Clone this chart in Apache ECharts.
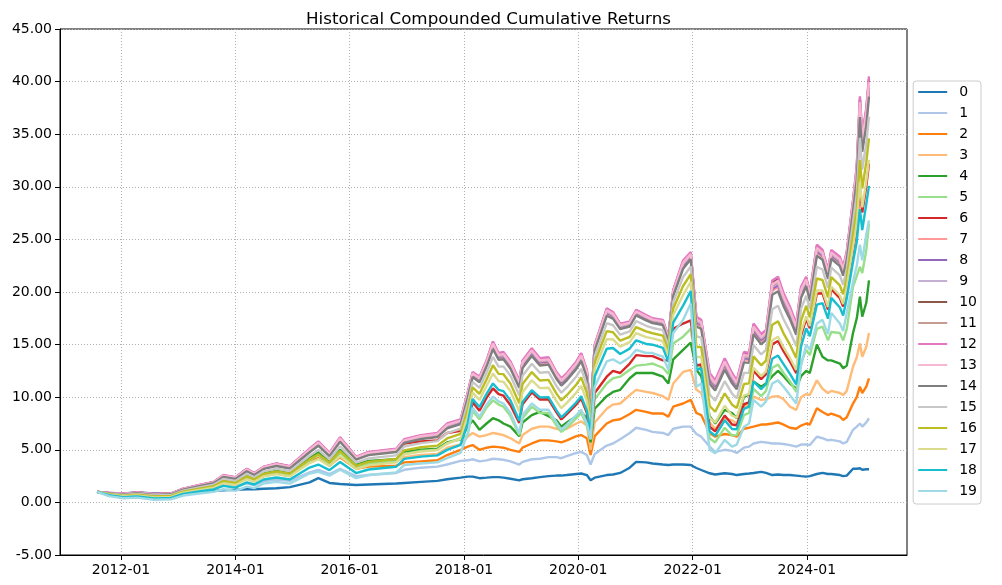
<!DOCTYPE html>
<html><head><meta charset="utf-8">
<script src="https://cdn.jsdelivr.net/npm/echarts/dist/echarts.min.js"></script>
<style>html,body{margin:0;padding:0;background:#fff}#c{width:1002px;height:585px}</style>
</head><body><div id="c"></div>
<script>
const dates = ['2011-08-01','2011-10-15','2012-01-15','2012-04-15','2012-08-01','2012-11-15','2013-02-01','2013-05-15','2013-08-15','2013-10-15',
'2014-01-01','2014-03-15','2014-05-01','2014-07-01','2014-09-20','2014-12-15','2015-04-20','2015-06-15','2015-08-25','2015-11-01',
'2016-02-11','2016-05-01','2016-10-25','2016-12-15','2017-04-01','2017-07-15','2017-09-15','2017-12-10','2018-01-25','2018-02-25',
'2018-04-10','2018-05-25','2018-07-05','2018-08-10','2018-09-10','2018-10-25','2018-12-20','2019-01-10','2019-03-10','2019-05-01',
'2019-06-25','2019-08-15','2019-09-15','2019-10-20','2019-12-20','2020-01-20','2020-02-25','2020-03-20','2020-04-15','2020-07-01',
'2020-08-10','2020-09-25','2020-11-25','2021-01-05','2021-03-10','2021-04-20','2021-06-25','2021-07-30','2021-08-30','2021-11-01',
'2021-12-20','2022-01-25','2022-02-25','2022-04-20','2022-05-25','2022-07-25','2022-09-10','2022-10-10','2022-11-25','2022-12-28',
'2023-01-25','2023-03-15','2023-04-15','2023-05-25','2023-07-01','2023-08-05','2023-09-15','2023-10-25','2023-11-25','2023-12-28',
'2024-01-20','2024-03-05','2024-04-10','2024-05-15','2024-06-05','2024-07-30','2024-08-20','2024-09-12','2024-10-22','2024-11-15',
'2024-12-05','2024-12-20','2025-01-15','2025-02-01'];

const s0 = [1.00,0.90,0.85,0.95,0.85,0.88,0.95,1.05,1.10,1.15, 1.20,1.25,1.25,1.30,1.35,1.45,1.90,2.30,1.85,1.75, 1.65,1.70,1.80,1.85,1.95,2.05,2.20,2.35,2.45,2.45, 2.30,2.35,2.40,2.40,2.35,2.25,2.10,2.20,2.30,2.40, 2.50,2.55,2.55,2.60,2.70,2.75,2.60,2.10,2.35,2.60, 2.65,2.80,3.30,3.85,3.80,3.70,3.60,3.55,3.60,3.60, 3.55,3.27,3.08,2.77,2.65,2.77,2.70,2.60,2.70,2.75, 2.80,2.90,2.80,2.60,2.65,2.60,2.60,2.55,2.50,2.45, 2.50,2.70,2.80,2.70,2.70,2.60,2.50,2.55,3.20,3.20, 3.25,3.10,3.15,3.15];
const s1 = [1.00,0.85,0.75,0.90,0.70,0.75,1.05,1.20,1.35,1.60, 1.50,1.80,1.65,2.00,2.15,2.05,2.85,3.10,2.70,3.20, 2.50,2.60,2.80,3.10,3.30,3.40,3.60,3.95,4.00,4.10, 3.90,4.00,4.15,4.10,4.05,3.90,3.60,3.85,4.10,4.15, 4.30,4.30,4.20,4.40,4.70,4.80,4.50,3.60,4.60,5.40, 5.60,6.00,6.60,7.10,6.90,6.70,6.60,6.40,7.00,7.20, 7.20,6.50,6.25,5.30,4.80,5.00,4.90,4.70,5.20,5.30, 5.60,5.75,5.70,5.60,5.60,5.55,5.45,5.30,5.50,5.50, 5.45,6.25,6.10,5.90,5.95,5.80,5.60,5.75,6.90,7.20, 7.50,7.20,7.60,8.00];
const s2 = [1.00,0.80,0.65,0.80,0.60,0.65,1.00,1.25,1.45,1.90, 1.75,2.30,2.05,2.50,2.75,2.50,4.00,4.20,3.50,4.30, 3.20,3.40,3.50,3.80,3.90,4.00,4.50,5.00,5.30,5.45, 5.00,5.20,5.30,5.25,5.20,5.00,4.80,5.20,5.60,5.90, 5.90,5.80,5.70,5.90,6.30,6.40,6.10,4.50,6.30,7.50, 7.80,7.90,8.40,8.80,8.60,8.45,8.45,8.15,9.10,9.40, 9.75,8.50,8.30,6.60,6.25,6.50,6.40,6.25,7.00,7.10, 7.20,7.40,7.40,7.50,7.60,7.40,7.10,7.00,7.30,7.50, 7.40,8.95,8.60,8.30,8.45,8.15,7.83,8.10,9.40,10.00, 11.00,10.40,11.00,11.80];
const s3 = [1.00,0.78,0.62,0.78,0.55,0.60,1.02,1.30,1.55,2.00, 1.85,2.50,2.20,2.70,2.95,2.70,4.20,4.70,3.80,4.80, 3.50,3.80,3.90,4.30,4.50,4.60,5.20,5.50,6.25,6.60, 6.25,6.40,6.60,6.50,6.40,6.10,5.60,6.40,7.00,7.20, 7.20,7.00,6.90,7.00,7.50,7.70,7.30,5.00,7.60,8.90, 9.30,9.40,10.20,10.70,10.50,10.40,10.10,9.75,11.30,12.40, 12.60,10.70,10.40,7.60,7.00,8.00,7.80,7.50,9.10,9.30, 10.05,9.75,9.80,10.05,10.10,9.80,9.10,8.80,10.00,10.30, 10.20,11.60,10.80,10.40,10.60,10.40,10.20,10.60,12.90,13.80, 15.10,13.85,14.80,16.10];
const s4 = [1.00,0.75,0.58,0.75,0.50,0.55,1.00,1.30,1.55,2.05, 1.90,2.55,2.25,2.75,3.00,2.75,4.30,4.80,3.80,5.00, 3.60,3.95,4.10,4.80,5.00,5.10,5.70,6.00,7.20,7.80, 6.90,7.50,8.00,7.80,7.50,7.20,6.30,7.60,8.30,8.60, 8.20,7.80,7.20,7.60,8.20,8.60,8.00,5.70,8.90,10.10, 10.50,10.70,11.80,12.30,12.30,12.30,11.95,11.30,13.60,14.50, 15.20,12.60,12.00,8.20,7.50,8.80,8.50,8.00,10.00,10.30, 11.50,11.00,11.30,12.00,12.50,12.00,11.30,10.80,12.00,12.50, 12.30,15.00,13.85,13.50,13.50,13.20,12.75,13.00,16.10,17.50, 19.55,17.65,19.00,21.10];
const s5 = [1.00,0.72,0.55,0.70,0.45,0.50,0.95,1.20,1.45,1.95, 1.80,2.45,2.15,2.65,2.90,2.65,4.00,4.50,3.60,4.70, 3.40,3.70,3.90,4.60,4.90,5.00,5.60,6.10,6.40,8.70, 7.90,9.00,9.70,9.30,9.10,8.20,6.40,8.00,9.10,8.50, 8.50,7.30,6.70,7.10,8.00,8.50,7.30,6.00,9.80,11.30, 11.80,11.95,12.60,13.00,13.10,13.20,12.80,12.20,15.10,15.75, 16.50,13.00,12.80,6.10,5.70,7.10,6.35,6.40,8.30,8.50, 10.80,10.10,10.60,12.80,13.10,12.30,11.50,10.50,13.30,14.50, 14.00,16.50,16.70,15.40,16.20,16.10,15.40,16.50,20.50,21.50, 22.40,21.80,24.00,26.50];
const s6 = [1.00,0.90,0.78,0.92,0.77,0.82,1.27,1.60,1.90,2.55, 2.35,3.15,2.75,3.35,3.65,3.40,5.00,5.60,4.55,6.00, 4.20,4.60,4.90,5.60,5.80,5.90,6.60,6.80,7.19,9.51, 8.72,9.93,10.84,10.29,10.14,9.24,7.56,9.34,10.45,9.78, 9.80,8.56,7.88,8.38,9.32,9.88,8.52,6.20,10.40,11.95, 12.50,12.30,13.20,14.00,13.90,13.90,13.50,13.50,16.50,17.00, 17.30,13.00,13.12,7.19,6.75,8.26,7.40,7.33,9.33,9.51, 12.51,11.72,12.18,15.02,15.34,14.38,13.39,12.29,15.85,17.45, 16.55,19.85,19.88,18.32,20.28,19.41,18.62,20.22,23.95,26.11, 29.86,27.56,30.06,32.20];
const s7 = [1.00,0.89,0.78,0.90,0.75,0.80,1.24,1.57,1.86,2.47, 2.27,3.03,2.66,3.24,3.53,3.28,4.87,5.51,4.49,5.89, 4.15,4.58,4.88,5.76,6.13,6.32,7.17,7.58,10.11,12.06, 11.57,13.08,14.78,13.74,13.81,12.91,11.10,12.98,14.13,13.21, 13.30,11.92,11.31,11.81,12.89,13.66,12.09,8.34,14.60,17.95, 17.65,16.62,16.86,17.92,17.44,17.17,17.00,15.44,19.79,22.44, 23.31,16.99,16.75,11.57,10.91,12.92,11.60,10.99,13.59,13.53, 16.28,15.31,15.72,20.12,20.47,19.01,17.76,16.24,19.75,20.81, 19.36,23.75,23.34,21.49,23.40,22.72,21.79,23.27,27.98,31.05, 37.19,33.80,36.30,39.13];
const s8 = [1.00,0.89,0.79,0.91,0.76,0.81,1.25,1.59,1.87,2.49, 2.30,3.06,2.68,3.27,3.56,3.32,4.91,5.57,4.53,5.95, 4.19,4.62,4.92,5.80,6.18,6.38,7.24,7.64,10.19,12.13, 11.65,13.16,14.88,13.83,13.91,13.01,11.20,13.08,14.23,13.31, 13.40,12.02,11.41,11.91,12.99,13.77,12.19,8.39,14.68,18.05, 17.74,16.70,16.93,18.00,17.51,17.24,17.07,15.50,19.87,22.55, 23.41,17.12,16.87,11.72,11.05,13.08,11.74,11.11,13.73,13.66, 16.42,15.45,15.86,20.32,20.66,19.19,17.93,16.39,19.90,20.93, 19.47,23.90,23.47,21.61,23.52,22.84,21.91,23.38,28.13,31.24, 37.47,34.04,36.54,39.40];
const s9 = [1.00,0.90,0.79,0.92,0.77,0.82,1.26,1.60,1.89,2.52, 2.32,3.10,2.71,3.30,3.60,3.35,4.96,5.63,4.57,6.01, 4.23,4.67,4.97,5.85,6.24,6.43,7.30,7.71,10.27,12.20, 11.72,13.25,14.99,13.92,14.01,13.11,11.30,13.19,14.34,13.41, 13.50,12.11,11.51,12.01,13.09,13.88,12.29,8.44,14.76,18.15, 17.83,16.77,17.00,18.07,17.58,17.30,17.14,15.56,19.95,22.66, 23.51,17.25,16.99,11.86,11.18,13.23,11.88,11.23,13.87,13.80, 16.57,15.59,15.99,20.51,20.86,19.37,18.10,16.54,20.05,21.06, 19.58,24.05,23.60,21.73,23.64,22.97,22.03,23.50,28.29,31.43, 37.75,34.28,36.78,39.68];
const s10 = [1.00,0.91,0.81,0.94,0.79,0.84,1.29,1.63,1.93,2.57, 2.37,3.17,2.77,3.37,3.67,3.42,5.05,5.74,4.66,6.14, 4.31,4.76,5.06,5.95,6.35,6.54,7.43,7.84,10.42,12.33, 11.87,13.42,15.20,14.11,14.20,13.30,11.50,13.40,14.55,13.60, 13.70,12.30,11.70,12.20,13.30,14.09,12.50,8.55,14.92,18.35, 18.01,16.92,17.13,18.22,17.73,17.43,17.28,15.69,20.12,22.89, 23.70,17.52,17.23,12.15,11.46,13.54,12.16,11.48,14.16,14.07, 16.86,15.86,16.26,20.90,21.25,19.72,18.43,16.85,20.35,21.32, 19.79,24.35,23.87,21.98,23.88,23.22,22.28,23.73,28.60,31.81, 38.32,34.76,37.26,40.23];
const s11 = [1.00,0.90,0.80,0.93,0.77,0.82,1.27,1.61,1.90,2.53, 2.34,3.12,2.73,3.32,3.61,3.37,4.98,5.66,4.59,6.05, 4.25,4.69,4.99,5.88,6.27,6.46,7.34,7.74,10.31,12.23, 11.76,13.29,15.04,13.97,14.06,13.16,11.35,13.24,14.39,13.46, 13.55,12.16,11.56,12.06,13.15,13.93,12.35,8.47,14.80,18.20, 17.88,16.81,17.03,18.11,17.62,17.34,17.18,15.59,19.99,22.72, 23.56,17.32,17.05,11.94,11.25,13.31,11.95,11.30,13.95,13.87, 16.64,15.66,16.06,20.61,20.96,19.46,18.18,16.62,20.13,21.13, 19.63,24.13,23.67,21.80,23.70,23.03,22.10,23.56,28.36,31.53, 37.90,34.40,36.90,39.82];
const s12 = [1.00,0.92,0.82,0.95,0.80,0.85,1.30,1.65,1.95,2.60, 2.40,3.20,2.80,3.40,3.70,3.45,5.10,5.80,4.70,6.20, 4.35,4.80,5.10,6.00,6.40,6.60,7.50,7.90,10.50,12.40, 11.95,13.50,15.30,14.20,14.30,13.40,11.60,13.50,14.65,13.70, 13.80,12.40,11.80,12.30,13.40,14.20,12.60,8.60,15.00,18.45, 18.10,17.00,17.20,18.30,17.80,17.50,17.35,15.75,20.20,23.00, 23.80,17.65,17.35,12.30,11.60,13.70,12.30,11.60,14.30,14.20, 17.00,16.00,16.40,21.10,21.45,19.90,18.60,17.00,20.50,21.45, 19.90,24.50,24.00,22.10,24.00,23.35,22.40,23.85,28.75,32.00, 38.60,35.00,37.50,40.50];
const s13 = [1.00,0.91,0.80,0.93,0.78,0.83,1.27,1.62,1.91,2.55, 2.35,3.13,2.74,3.34,3.63,3.38,5.01,5.68,4.61,6.08, 4.27,4.71,5.01,5.90,6.29,6.49,7.37,7.77,10.34,12.26, 11.80,13.33,15.09,14.02,14.10,13.20,11.40,13.29,14.44,13.50, 13.60,12.21,11.60,12.10,13.20,13.98,12.40,8.50,14.84,18.25, 17.92,16.85,17.06,18.15,17.66,17.37,17.21,15.62,20.04,22.77, 23.60,17.38,17.11,12.01,11.32,13.39,12.02,11.36,14.02,13.93, 16.71,15.72,16.13,20.71,21.06,19.54,18.26,16.70,20.20,21.19, 19.68,24.20,23.73,21.86,23.76,23.10,22.16,23.62,28.44,31.62, 38.04,34.52,37.02,39.95];
const s14 = [1.00,0.88,0.76,0.88,0.72,0.77,1.21,1.54,1.82,2.41, 2.22,2.96,2.60,3.18,3.46,3.22,4.77,5.39,4.40,5.77, 4.06,4.49,4.79,5.66,6.02,6.21,7.04,7.45,9.95,11.92, 11.42,12.91,14.57,13.56,13.61,12.71,10.89,12.77,13.92,13.01, 13.10,11.73,11.11,11.61,12.69,13.44,11.89,8.24,14.44,17.74, 17.47,16.47,16.72,17.77,17.30,17.04,16.86,15.31,19.63,22.21, 23.11,16.72,16.50,11.28,10.63,12.61,11.32,10.75,13.31,13.26, 15.99,15.03,15.45,19.73,20.07,18.65,17.42,15.94,19.45,20.55, 19.14,23.45,23.07,21.25,23.16,22.46,21.55,23.03,27.67,30.67, 36.63,33.32,35.82,38.58];
const s15 = [1.00,0.83,0.70,0.81,0.65,0.70,1.12,1.43,1.68,2.22, 2.04,2.72,2.39,2.95,3.21,2.98,4.44,4.99,4.10,5.33, 3.78,4.18,4.47,5.31,5.64,5.82,6.58,7.00,9.41,11.45, 10.89,12.32,13.83,12.91,12.93,12.03,10.19,12.04,13.18,12.33, 12.40,11.06,10.43,10.93,11.97,12.69,11.17,7.87,13.88,17.04, 16.84,15.94,16.25,17.24,16.79,16.58,16.37,14.87,19.05,21.42, 22.43,15.79,15.66,10.26,9.66,11.52,10.34,9.89,12.31,12.32, 14.97,14.07,14.50,18.36,18.69,17.41,16.25,14.87,18.40,19.64, 18.39,22.40,22.14,20.39,22.32,21.57,20.69,22.21,26.58,29.34, 34.65,31.64,34.14,36.66];
const s16 = [1.00,0.78,0.64,0.74,0.56,0.61,1.02,1.31,1.54,2.02, 1.84,2.47,2.18,2.71,2.95,2.73,4.09,4.55,3.78,4.87, 3.47,3.85,4.13,4.95,5.24,5.40,6.08,6.52,8.82,10.94, 10.32,11.69,13.04,12.22,12.19,11.29,9.43,11.26,12.39,11.59, 11.65,10.34,9.69,10.19,11.21,11.88,10.41,7.48,13.28,16.28, 16.17,15.37,15.74,16.67,16.25,16.08,15.85,14.40,18.44,20.57, 21.69,14.79,14.75,9.16,8.62,10.36,9.29,8.98,11.25,11.32, 13.88,13.03,13.48,16.89,17.21,16.07,14.99,13.73,17.28,18.68, 17.58,21.28,21.14,19.48,21.42,20.62,19.78,21.33,25.42,27.92, 32.54,29.84,32.34,34.61];
const s17 = [1.00,0.73,0.58,0.66,0.48,0.53,0.92,1.19,1.40,1.82, 1.65,2.21,1.96,2.47,2.69,2.48,3.74,4.12,3.45,4.40, 3.16,3.52,3.80,4.58,4.83,4.98,5.59,6.04,8.24,10.43, 9.75,11.06,12.26,11.53,11.46,10.56,8.67,10.48,11.61,10.86, 10.90,9.62,8.96,9.46,10.44,11.07,9.64,7.09,12.68,15.52, 15.49,14.80,15.23,16.10,15.71,15.59,15.32,13.92,17.82,19.72, 20.96,13.79,13.84,8.07,7.58,9.19,8.24,8.06,10.18,10.31, 12.80,12.00,12.46,15.42,15.74,14.74,13.73,12.59,16.15,17.71, 16.77,20.15,20.14,18.56,20.52,19.67,18.86,20.46,24.26,26.49, 30.42,28.04,30.54,32.55];
const s18 = [1.00,0.68,0.50,0.57,0.38,0.43,0.81,1.04,1.23,1.57, 1.41,1.91,1.70,2.18,2.37,2.18,3.31,3.60,3.07,3.84, 2.79,3.13,3.39,4.14,4.35,4.47,4.99,5.47,7.54,9.82, 9.06,10.31,11.31,10.70,10.58,9.68,7.76,9.55,10.66,9.98, 10.00,8.75,8.08,8.58,9.52,10.10,8.72,6.62,11.96,14.61, 14.68,14.11,14.62,15.41,15.06,14.99,14.69,13.36,17.08,18.71, 20.08,12.60,12.75,6.75,6.33,7.80,6.98,6.96,8.90,9.11, 11.49,10.76,11.23,13.65,13.96,13.14,12.22,11.22,14.80,16.55, 15.80,18.80,18.95,17.46,19.44,18.52,17.76,19.40,22.86,24.78, 27.88,25.88,28.38,30.09];
const s19 = [1.00,0.60,0.40,0.45,0.25,0.30,0.65,0.85,1.00,1.25, 1.10,1.50,1.35,1.80,1.95,1.78,2.75,2.90,2.55,3.10, 2.30,2.60,2.85,3.55,3.70,3.80,4.20,4.70,6.60,9.00, 8.15,9.30,10.05,9.60,9.40,8.50,6.55,8.30,9.40,8.80, 8.80,7.60,6.90,7.40,8.30,8.80,7.50,6.00,11.00,13.40, 13.60,13.20,13.80,14.50,14.20,14.20,13.85,12.60,16.10,17.35, 18.90,11.00,11.30,5.00,4.67,5.93,5.30,5.50,7.20,7.50, 9.75,9.10,9.60,11.30,11.60,11.00,10.20,9.40,13.00,15.00, 14.50,17.00,17.35,16.00,18.00,17.00,16.30,18.00,21.00,22.50, 24.50,23.00,25.50,26.80];

const seriesNames = ['0','1','2','3','4','5','6','7','8','9','10','11','12','13','14','15','16','17','18','19'];
const xTickLabels = ['2012-01','2014-01','2016-01','2018-01','2020-01','2022-01','2024-01'];
const yTickMin = -5, yTickMax = 45, yTickStep = 5;

const allValues = [s0,s1,s2,s3,s4,s5,s6,s7,s8,s9,s10,s11,s12,s13,s14,s15,s16,s17,s18,s19];
const colors = ['#1f77b4','#aec7e8','#ff7f0e','#ffbb78','#2ca02c','#98df8a','#d62728','#ff9896','#9467bd','#c5b0d5',
                '#8c564b','#c49c94','#e377c2','#f7b6d2','#7f7f7f','#c7c7c7','#bcbd22','#dbdb8d','#17becf','#9edae5'];

function toTs(s) { const p = s.split('-').map(Number); return Date.UTC(p[0], p[1] - 1, p[2] || 1); }
function fmt(v) { const d = new Date(v); return d.getUTCFullYear() + '-' + String(d.getUTCMonth() + 1).padStart(2, '0'); }
const xTicks = xTickLabels.map(l => toTs(l + '-01'));
const FONT = 'DejaVu Sans';

const chart = echarts.init(document.getElementById('c'), null, {renderer: 'canvas'});
chart.setOption({
  animation: false,
  backgroundColor: '#ffffff',
  title: {
    text: 'Historical Compounded Cumulative Returns',
    left: 483.5, top: 6, textAlign: 'center',
    textStyle: {fontFamily: FONT, fontSize: 16.7, fontWeight: 'normal', color: '#000'}
  },
  legend: {
    orient: 'vertical', right: 21, top: 81,
    itemWidth: 29, itemHeight: 2, itemGap: 7,
    icon: 'rect',
    padding: [4, 4, 6, 5],
    borderColor: '#cccccc', borderWidth: 1, borderRadius: 3,
    backgroundColor: '#fff',
    textStyle: {fontFamily: FONT, fontSize: 14, color: '#000', padding: [0, 0, 0, 7]},
    data: seriesNames
  },
  grid: {left: 60, right: 95, top: 29, bottom: 30, show: true, borderColor: '#000', borderWidth: 1, containLabel: false},
  xAxis: {
    type: 'value',
    min: toTs('2010-12-07'), max: toTs('2025-10-02'),
    axisLine: {show: true, onZero: false, lineStyle: {color: '#000', width: 1}},
    axisTick: {show: true, length: 5, customValues: xTicks, lineStyle: {color: '#000'}},
    axisLabel: {customValues: xTicks, formatter: fmt, fontFamily: FONT, fontSize: 14, color: '#000', margin: 8},
    splitLine: {show: true, lineStyle: {color: '#b0b0b0', type: [1, 2], width: 1}}
  },
  yAxis: {
    type: 'value', min: yTickMin, max: yTickMax, interval: yTickStep,
    axisLine: {show: true, lineStyle: {color: '#000', width: 1}},
    axisTick: {show: true, length: 5, lineStyle: {color: '#000'}},
    axisLabel: {formatter: v => v.toFixed(2), fontFamily: FONT, fontSize: 14, color: '#000', margin: 8},
    splitLine: {show: true, lineStyle: {color: '#b0b0b0', type: [1, 2], width: 1}}
  },
  series: allValues.map((vals, i) => ({
    name: seriesNames[i], type: 'line',
    data: dates.map((d, j) => [toTs(d), vals[j]]),
    showSymbol: false, symbol: 'none',
    lineStyle: {width: 2.4, color: colors[i]},
    itemStyle: {color: colors[i]},
    emphasis: {disabled: true},
    silent: true
  }))
});
</script>
</body></html>
